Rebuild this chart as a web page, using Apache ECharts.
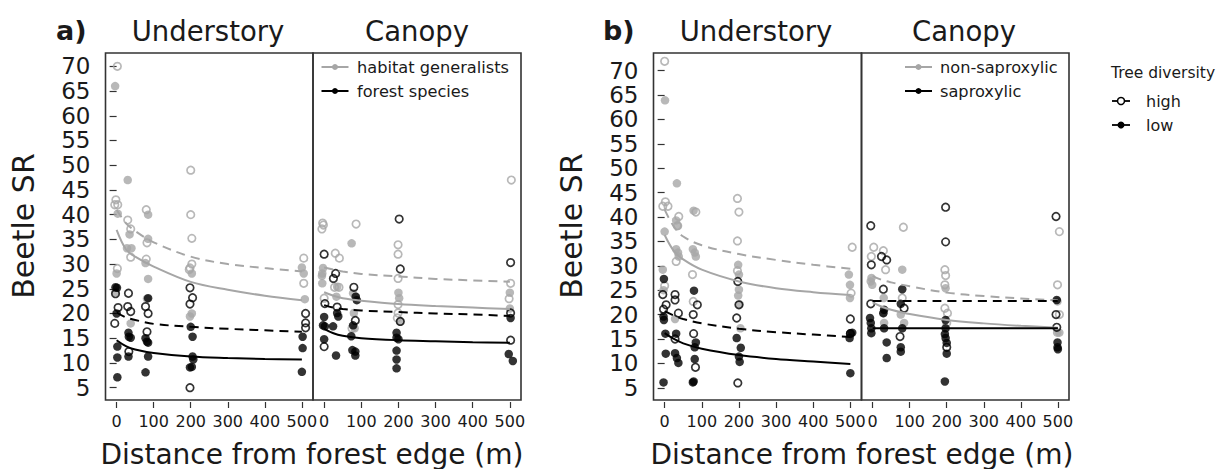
<!DOCTYPE html>
<html><head><meta charset="utf-8">
<script src="https://cdn.jsdelivr.net/npm/echarts@6/dist/echarts.min.js"></script>
<style>html,body{margin:0;padding:0;background:#fff}#c{width:1223px;height:469px}</style>
</head><body><div id="c"></div>
<script>
// ---------- tick labels ----------
const xTicks = [0, 100, 200, 300, 400, 500];
const yTicks = [5, 10, 15, 20, 25, 30, 35, 40, 45, 50, 55, 60, 65, 70];
const panelTitles = ['Understory', 'Canopy', 'Understory', 'Canopy'];
const panelTags = ['a)', 'b)'];
const legendA = ['habitat generalists', 'forest species'];
const legendB = ['non-saproxylic', 'saproxylic'];
const diversityTitle = 'Tree diversity';
const diversityLevels = ['high', 'low'];

// ---------- panel a, understory ----------
const aU_gO = [[2,70],[-2,43],[-5,42],[3,42],[30,38.9],[38,37.1],[38,31.4],[80,41],[82,34.3],[80,31.0],[200,49],[200,40],[203,35.2],[203,30.0],[198,29.2],[196,28.9],[2,29.1],[505,31.2],[505,26.1]];
const aU_gF = [[-4,66],[30,47],[3,40.2],[85,40],[35,36],[85,35.1],[28,33.2],[40,33.2],[78,30.2],[85,27.0],[203,28.1],[0,28.1],[-3,24.3],[500,29.3],[505,28.1],[508,22.9],[203,20.0],[198,19.4],[38,18.0],[82,23.0]];
const aU_bO = [[-3,24.0],[32,24.1],[4,21.2],[30,21.4],[38,20.4],[78,21.4],[85,20.0],[198,25.2],[205,23.2],[198,21.9],[-5,18.0],[82,16.3],[33,12.3],[198,5.0],[510,20.0],[510,18.1],[510,17.1]];
const aU_bF = [[-3,25.3],[1,25.2],[85,23.1],[0,20.0],[200,17.3],[32,16.1],[33,15.3],[38,15.1],[78,15.0],[82,14.3],[85,14.1],[205,15.3],[502,15.3],[502,13.0],[2,13.3],[2,11.1],[32,11.3],[85,11.3],[205,11.3],[207,10.7],[198,9.1],[203,9.2],[78,8.1],[500,8.2],[2,7.1]];
const aU_gSolid = [[0,36.9],[25,33.0],[50,31.5],[100,29.5],[200,26.4],[300,24.8],[400,23.6],[500,22.7]];
const aU_gDash  = [[0,41.0],[25,38.3],[50,36.7],[100,34.4],[200,31.5],[300,30.0],[400,29.2],[500,28.5]];
const aU_bSolid = [[0,14.6],[25,13.4],[50,12.7],[100,12.0],[200,11.3],[300,11.0],[400,10.8],[500,10.7]];
const aU_bDash  = [[0,20.2],[25,19.2],[50,18.7],[100,17.9],[200,17.3],[300,16.9],[400,16.6],[500,16.3]];

// ---------- panel a, canopy ----------
const aC_gO = [[504,47.0],[-4,38.3],[-2,37.9],[-6,37.1],[86,38.1],[199,33.9],[199,32.0],[30,32.2],[41,31.2],[199,27.1],[502,26.1],[28,25.3],[40,25.3],[0,23.1],[498,23.0],[199,21.8],[199,20.1],[197,19.1],[75,17.0]];
const aC_gF = [[74,34.2],[-3,29.2],[-5,28.1],[-6,27.6],[-5,26.1],[35,25.4],[33,23.4],[78,24.1],[85,23.4],[200,24.2],[202,23.1],[500,24.2],[500,21.0],[80,20.1],[205,18.4],[82,17.0]];
const aC_bO = [[202,39.1],[0,32.0],[502,30.3],[205,29.0],[31,28.1],[25,27.1],[80,25.3],[2,22.0],[35,21.3],[84,18.6],[205,18.4],[502,20.1],[502,14.6],[0,13.3]];
const aC_bF = [[85,23.4],[88,22.7],[35,20.1],[38,19.4],[0,19.3],[502,19.1],[-3,17.6],[2,17.4],[24,17.4],[78,17.6],[195,16.1],[195,15.1],[200,14.8],[73,15.4],[0,14.8],[76,12.6],[84,12.3],[84,11.5],[32,11.5],[195,12.5],[195,10.7],[195,8.9],[497,11.8],[508,10.4]];
const aC_gSolid = [[0,24.3],[25,23.6],[50,23.1],[100,22.6],[200,21.9],[300,21.5],[400,21.2],[500,20.9]];
const aC_gDash  = [[0,29.3],[25,28.9],[50,28.5],[100,28.0],[200,27.5],[300,27.0],[400,26.7],[500,26.4]];
const aC_bSolid = [[0,16.9],[25,16.0],[50,15.5],[100,15.0],[200,14.6],[300,14.4],[400,14.2],[500,14.1]];
const aC_bDash  = [[0,21.7],[25,21.2],[50,20.9],[100,20.6],[200,20.3],[300,20.0],[400,19.8],[500,19.5]];

// ---------- panel b, understory ----------
const bU_gO = [[0,71.9],[2,43.1],[-5,42.2],[9,42.2],[196,43.8],[200,41.0],[84,41.0],[38,40.1],[34,38.2],[31,30.9],[75,28.2],[196,35.1],[196,29.0],[505,33.8],[502,24.4],[0,25.9],[77,22.7]];
const bU_gF = [[1,63.9],[33,46.9],[78,41.3],[31,39.3],[36,38.2],[0,37.0],[31,33.4],[36,32.7],[38,31.9],[76,33.4],[81,32.7],[84,31.9],[198,30.2],[200,28.2],[-5,29.2],[496,28.2],[499,26.1],[499,23.4],[200,25.1],[198,23.9],[202,22.1],[28,19.1],[204,17.2],[-3,25.0]];
const bU_bO = [[-5,24.1],[-3,21.1],[4,22.0],[28,24.1],[28,23.0],[37,20.3],[77,20.0],[88,22.0],[78,16.1],[83,9.2],[197,26.8],[194,19.3],[197,6.0],[500,19.1],[500,16.1],[200,22.0],[28,15.0]];
const bU_bF = [[-2,27.3],[-3,19.6],[-2,18.9],[2,16.1],[31,16.1],[3,12.0],[28,12.1],[33,11.1],[37,10.1],[79,24.9],[84,14.3],[81,13.3],[81,10.9],[194,15.2],[205,13.2],[200,11.4],[202,10.3],[-3,6.1],[76,6.1],[78,6.3],[500,16.2],[505,16.3],[498,15.2],[500,8.0]];
const bU_gSolid = [[0,36.3],[25,33.0],[50,31.3],[100,29.2],[200,26.8],[300,25.4],[400,24.6],[500,24.0]];
const bU_gDash  = [[0,41.5],[25,38.0],[50,36.0],[100,34.2],[200,32.4],[300,31.2],[400,30.2],[500,29.4]];
const bU_bSolid = [[0,16.2],[25,15.0],[50,14.1],[100,13.0],[200,11.7],[300,10.9],[400,10.4],[500,9.9]];
const bU_bDash  = [[0,20.7],[25,19.8],[50,19.1],[100,18.2],[200,17.1],[300,16.4],[400,15.9],[500,15.4]];

// ---------- panel b, canopy ----------
const bC_gO = [[83,37.9],[504,37.0],[3,33.8],[29,33.1],[-3.5,31.9],[35,29.2],[195,29.2],[197,28.0],[195,26.1],[499,26.1],[80,23.4],[195,21.3],[202,20.3],[504,20.0],[200,18.3]];
const bC_gF = [[80,29.2],[-3,27.5],[-1,26.1],[-5,26.8],[197,25.4],[30,23.4],[29,20.3],[31,18.3],[76,20.0],[85,18.3],[499,22.7],[504,16.3],[498,16.3]];
const bC_bO = [[197,42.0],[495,40.1],[-5,38.2],[197,34.9],[24,31.9],[38,31.2],[-3.5,30.2],[29,25.2],[-5,22.2],[85,21.3],[495,20.0],[497,17.4],[74,15.5],[200,13.3]];
const bC_bF = [[80,25.2],[76,22.2],[29,20.3],[31,21.0],[497,23.0],[-7,19.3],[-5,18.3],[-3.5,17.2],[-3.5,16.2],[31,17.2],[80,17.2],[197,18.9],[197,17.2],[195,16.0],[197,15.2],[38,14.3],[76,13.3],[76,12.4],[200,14.2],[200,12.0],[499,14.3],[499,13.3],[500,12.9],[38,11.1],[195,6.3]];
const bC_gSolid = [[0,22.5],[25,21.6],[50,21.0],[100,20.1],[200,18.9],[300,18.2],[400,17.7],[500,17.3]];
const bC_gDash  = [[0,27.9],[25,27.1],[50,26.6],[100,25.8],[200,24.5],[300,23.8],[400,23.3],[500,22.9]];
const bC_bSolid = [[0,17.2],[500,17.2]];
const bC_bDash  = [[0,22.8],[500,22.8]];

// ---------- build ----------
const FONT = 'DejaVu Sans';
const GREY = '#a6a6a6';
const BLACK = '#000000';
const TXT = '#1a1a1a';
const FRAME = '#333333';

const panels = [
  {gO:aU_gO,gF:aU_gF,bO:aU_bO,bF:aU_bF,gS:aU_gSolid,gD:aU_gDash,bS:aU_bSolid,bD:aU_bDash,left:105.5,width:207.5,yr:[2.5,72.7],yShow:true},
  {gO:aC_gO,gF:aC_gF,bO:aC_bO,bF:aC_bF,gS:aC_gSolid,gD:aC_gDash,bS:aC_bSolid,bD:aC_bDash,left:313,width:208,yr:[2.5,72.7],yShow:false},
  {gO:bU_gO,gF:bU_gF,bO:bU_bO,bF:bU_bF,gS:bU_gSolid,gD:bU_gDash,bS:bU_bSolid,bD:bU_bDash,left:653.5,width:208,yr:[2.5,73.6],yShow:true},
  {gO:bC_gO,gF:bC_gF,bO:bC_bO,bF:bC_bF,gS:bC_gSolid,gD:bC_gDash,bS:bC_bSolid,bD:bC_bDash,left:861.5,width:207.5,yr:[2.5,73.6],yShow:false}
];
const TOP = 53, HEIGHT = 347;

const grid = [], xAxis = [], yAxis = [], series = [];
panels.forEach((p, i) => {
  grid.push({left:p.left, top:TOP, width:p.width, height:HEIGHT, show:true, borderColor:FRAME, borderWidth:1.6, backgroundColor:'transparent'});
  xAxis.push({type:'value', gridIndex:i, min:-30, max:530, offset:2,
    axisLine:{show:false}, splitLine:{show:false},
    axisTick:{show:true, customValues:xTicks, length:6, lineStyle:{color:FRAME, width:1.2}},
    axisLabel:{customValues:xTicks, fontSize:16, margin:11, color:TXT, fontFamily:FONT}});
  yAxis.push({type:'value', gridIndex:i, min:p.yr[0], max:p.yr[1], show:p.yShow, offset:3,
    axisLine:{show:false}, splitLine:{show:false},
    axisTick:{show:true, customValues:yTicks, length:7, lineStyle:{color:FRAME, width:1.2}},
    axisLabel:{customValues:yTicks, fontSize:23, margin:12, color:TXT, fontFamily:FONT}});
  const sc = (data, color, open) => ({type:'scatter', xAxisIndex:i, yAxisIndex:i, data, symbol:'circle',
    symbolSize: open ? 7.5 : 8.5, silent:true,
    itemStyle: open ? {color:'rgba(255,255,255,0)', borderColor:color, borderWidth:1.7} : {color, borderWidth:0}});
  const ln = (data, color, dashed) => ({type:'line', xAxisIndex:i, yAxisIndex:i, data, showSymbol:false, smooth:0.35, silent:true,
    lineStyle:{color, width:2, type: dashed ? [9,6] : 'solid'}});
  series.push(sc(p.gF, GREY, false), sc(p.gO, GREY, true), sc(p.bF, BLACK, false), sc(p.bO, BLACK, true));
  series.push(ln(p.gS, GREY, false), ln(p.gD, GREY, true), ln(p.bS, BLACK, false), ln(p.bD, BLACK, true));
});

const txt = (text, x, y, size, opts={}) => ({type:'text', x, y, rotation: opts.rot || 0,
  style:{text, fontSize:size, fontFamily:FONT, fontWeight: opts.bold ? 'bold' : 'normal', fill:TXT,
    textAlign: opts.align || 'center', textVerticalAlign:'middle'}});
const graphic = [];
// panel tags and titles
graphic.push(txt(panelTags[0], 56, 30, 27, {bold:true, align:'left'}));
graphic.push(txt(panelTags[1], 603, 30, 27, {bold:true, align:'left'}));
graphic.push(txt(panelTitles[0], 208, 31, 27.5));
graphic.push(txt(panelTitles[1], 417, 31, 27.5));
graphic.push(txt(panelTitles[2], 756, 31, 27.5));
graphic.push(txt(panelTitles[3], 964, 31, 27.5));
// axis titles
graphic.push(txt('Beetle SR', 23, 226, 30, {rot:Math.PI/2}));
graphic.push(txt('Beetle SR', 571, 226, 30, {rot:Math.PI/2}));
graphic.push(txt('Distance from forest edge (m)', 312, 454, 28));
graphic.push(txt('Distance from forest edge (m)', 862, 454, 28));
// in-panel legends
const legLine = (x1, x2, y, color, w) => ({type:'line', shape:{x1, y1:y, x2, y2:y}, style:{stroke:color, lineWidth:w}});
const legDot = (cx, cy, r, color, open) => ({type:'circle', shape:{cx, cy, r}, style: open ? {fill:'#fff', stroke:color, lineWidth:1.5} : {fill:color}});
[[legendA, 321.5, 348.5, 357], [legendB, 905, 932, 940]].forEach(([lab, x1, x2, tx]) => {
  [[GREY, 67], [BLACK, 91]].forEach(([c, y], k) => {
    graphic.push(legLine(x1, x2, y, c, 2));
    graphic.push(legDot((x1+x2)/2, y, 3, c, false));
    graphic.push(txt(lab[k], tx, y, 16.2, {align:'left'}));
  });
});
// tree diversity legend
graphic.push(txt(diversityTitle, 1111, 73, 15.5, {align:'left'}));
[[101, true], [125, false]].forEach(([y, open], k) => {
  graphic.push(legLine(1112, 1130, y, BLACK, 1.8));
  graphic.push(legDot(1121, y, 3.5, BLACK, open));
  graphic.push(txt(diversityLevels[k], 1146, y, 16, {align:'left'}));
});

const chart = echarts.init(document.getElementById('c'), null, {renderer:'svg'});
chart.setOption({animation:false, backgroundColor:'#ffffff', grid, xAxis, yAxis, series, graphic});
</script></body></html>
